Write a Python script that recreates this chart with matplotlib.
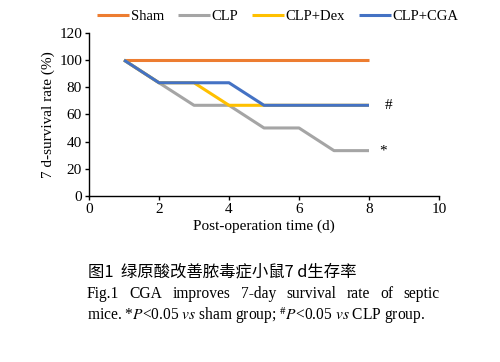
import matplotlib
matplotlib.use('Agg')
import matplotlib.pyplot as plt

days = [1, 2, 3, 4, 5, 6, 7, 8]
sham = [100, 100, 100, 100, 100, 100, 100, 100]
clp = [100, 83.3, 66.7, 66.7, 50, 50, 33.3, 33.3]
clp_dex = [100, 83.3, 83.3, 66.7, 66.7, 66.7, 66.7, 66.7]
clp_cga = [100, 83.3, 83.3, 83.3, 66.7, 66.7, 66.7, 66.7]
labels = ['Sham', 'CLP', 'CLP+Dex', 'CLP+CGA']
colors = ['#ED7D31', '#A5A5A5', '#FFC000', '#4472C4']

caption_cn = '图1  绿原酸改善脓毒症小鼠7 d生存率'
caption_en1 = 'Fig.1  CGA improves 7-day survival rate of septic'
caption_en2 = r'mice. *$\mathit{P}$<0.05 $\mathit{vs}$ sham group; $^{\#}\mathit{P}$<0.05 $\mathit{vs}$ CLP group.'

plt.rcParams['font.family'] = ['Liberation Serif', 'DejaVu Serif']
plt.rcParams['mathtext.fontset'] = 'stix'

fig = plt.figure(figsize=(5, 3.62), dpi=100)
ax = fig.add_axes([0.178, 0.459, 0.700, 0.450])

for series, label, color in zip([sham, clp, clp_dex, clp_cga], labels, colors):
	ax.plot(days, series, color=color, linewidth=2.2, label=label, solid_capstyle='butt')

ax.set_xlim(0, 10)
ax.set_ylim(0, 120)
ax.set_xticks(range(0, 11, 2))
ax.set_yticks(range(0, 121, 20))
for side in ['top', 'right']:
	ax.spines[side].set_visible(False)
for side in ['left', 'bottom']:
	ax.spines[side].set_linewidth(1.0)
ax.tick_params(direction='out', length=3, width=1.0, labelsize=11, pad=2)
ax.set_xlabel('Post-operation time (d)', fontsize=11, labelpad=3)
ax.set_ylabel('7 d-survival rate (%)', fontsize=11, labelpad=3)

ax.text(8.4, 33.3, '*', fontsize=11, ha='center', va='center')
ax.text(8.55, 66.7, '#', fontsize=11, ha='center', va='center')

fig.legend(loc='center', bbox_to_anchor=(0.556, 0.955), ncol=4, frameon=False,
	fontsize=10.5, handlelength=2.2, handletextpad=0.1, columnspacing=0.95, borderpad=0)

fig.text(0.176, 0.25, caption_cn, fontsize=11.8, family=['Noto Sans CJK SC', 'DejaVu Sans'],
	fontweight='medium', va='center')

# justify the first English line between the axis ends
x0, x1 = 0.174, 0.880
words = caption_en1.split(' ')
word_objs = [fig.text(0, 0.187, w, fontsize=11.2, va='center') for w in words if w]
fig.canvas.draw()
r = fig.canvas.get_renderer()
widths = [t.get_window_extent(r).width / fig.bbox.width for t in word_objs]
gap = (x1 - x0 - sum(widths)) / (len(word_objs) - 1)
pos = x0
for t, w in zip(word_objs, widths):
	t.set_x(pos)
	pos += w + gap

fig.text(x0, 0.128, caption_en2, fontsize=11.2, va='center')

fig.savefig('out.png', dpi=100)
